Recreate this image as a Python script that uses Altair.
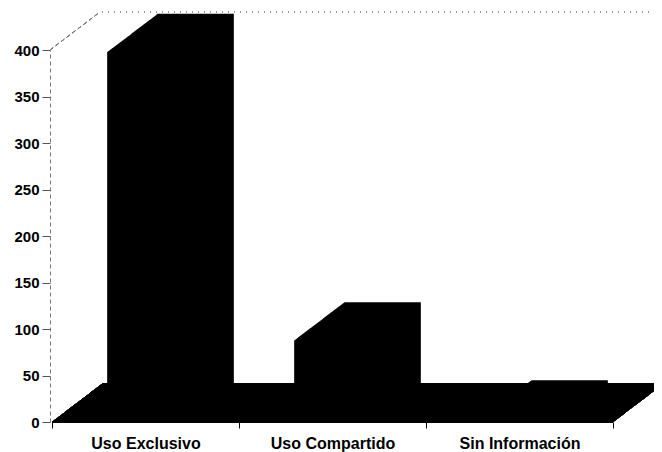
import altair as alt
import pandas as pd

# ---- data ----
categorias = ["Uso Exclusivo", "Uso Compartido", "Sin Información"]
valores = [398, 88, 4]
ticks_y = [0, 50, 100, 150, 200, 250, 300, 350, 400]

df = pd.DataFrame({"cat": categorias, "val": valores})

# ---- layout / style ----
W, H = 561, 372
DX, DY = 50, -38          # pseudo 3D depth offset (pixels)
STEPS = 51
FONT = "Liberation Sans"

xscale = alt.Scale(domain=categorias, paddingInner=0, paddingOuter=0)
yscale = alt.Scale(domain=[0, 400], nice=False, zero=True)

x_enc = alt.X("cat:N", scale=xscale, sort=categorias,
              axis=alt.Axis(title=None, labelAngle=0, tickBand="extent",
                            domain=False, tickColor="black", tickSize=6,
                            tickWidth=1, labelFontSize=16, labelFontWeight="bold",
                            labelColor="black", labelPadding=7, labelFont=FONT))
y_axis = alt.Axis(values=ticks_y, title=None, grid=False, domainDash=[4, 3],
                  domainColor="#777", tickColor="#555", tickSize=8, offset=2,
                  labelFontSize=15, labelFontWeight="bold", labelColor="black",
                  labelPadding=3, labelFont=FONT)
y_enc = alt.Y("val:Q", scale=yscale, axis=y_axis)

base = alt.Chart(df)

layers = []
# back wall edges (dashed diagonal + dotted top line at the 400 level)
layers.append(
    base.mark_rule(color="#777", strokeDash=[4, 3], strokeWidth=1,
                   x2Offset=DX, y2Offset=DY).encode(
        x=alt.value(-2), x2=alt.value(-2),
        y=alt.Y(datum=400, scale=yscale, axis=y_axis), y2=alt.datum(400))
)
layers.append(
    base.mark_rule(color="#888", strokeDash=[1, 5], strokeWidth=1,
                   xOffset=DX, x2Offset=DX, yOffset=DY, y2Offset=DY).encode(
        x=alt.value(0), x2=alt.value(W + 60),
        y=alt.Y(datum=400, scale=yscale, axis=y_axis), y2=alt.datum(400))
)

# extrusion: sweep floor and bars from back to front
for i in range(STEPS - 1, -1, -1):
    t = i / (STEPS - 1)
    ox, oy = DX * t, DY * t
    layers.append(
        base.mark_rule(color="black", strokeWidth=1.5,
                       xOffset=ox, x2Offset=ox, yOffset=oy, y2Offset=oy).encode(
            x=alt.value(0), x2=alt.value(W),
            y=alt.Y(datum=0, scale=yscale, axis=y_axis), y2=alt.datum(0))
    )
    layers.append(
        base.mark_bar(color="black", width=alt.RelativeBandSize(0.41),
                      xOffset=ox, x2Offset=ox, yOffset=oy, y2Offset=oy).encode(
            x=x_enc, y=y_enc)
    )

chart = alt.layer(*layers).properties(
    width=W, height=H,
    autosize=alt.AutoSizeParams(type="none"),
    padding={"left": 44, "top": 42, "right": 41, "bottom": 30},
).configure(font=FONT, background="white").configure_view(stroke=None, strokeWidth=0)

chart.save("out.html", embed_options={"renderer": "svg", "actions": False})
